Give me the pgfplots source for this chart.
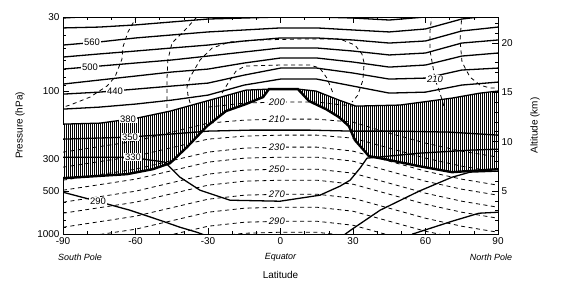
\documentclass[border=0pt]{standalone}
\usepackage{fontspec}
\setmainfont{Liberation Sans}
\usepackage{pgfplots}
\pgfplotsset{compat=1.18}
\usepgfplotslibrary{fillbetween}
\usetikzlibrary{patterns.meta,calc}

\begin{document}
\begin{tikzpicture}[font=\fontsize{10}{12}\selectfont,
  isen/.style={black, line width=1.3pt},
  trop/.style={black, line width=2.4pt},
  iso/.style={black, line width=0.8pt, dash pattern=on 4bp off 3.5bp},
  lab/.style={fill=white, inner sep=0.8pt, font=\fontsize{9.5}{10}\selectfont},
  tlab/.style={lab, font=\fontsize{9.5}{10}\selectfont\itshape}]
\begin{axis}[
    scale only axis, width=435bp, height=217bp,
    xmin=-90, xmax=90, ymin=30, ymax=1000,
    ymode=log, y dir=reverse,
    xtick={-90,-60,-30,0,30,60,90},
    xticklabels={-90,-60,-30,0,30,60,90},
    minor xtick={-80,-70,-50,-40,-20,-10,10,20,40,50,70,80},
    ytick={30,100,300,500,1000},
    yticklabels={30,100,300,500,1000},
    minor ytick={40,50,60,70,80,90,200,400,600,700,800,900},
    ytick pos=left, xtick pos=both, tick align=inside,
    major tick length=6bp, minor tick length=3bp,
    tick style={black, line width=0.6pt},
    axis line style={line width=0.8pt},
    clip=true
]
% temperature (dashed), troposphere
\addplot[iso] coordinates {(-30,128.7) (-15,120.6) (0,118.6) (15,118.6) (30,126.6)};
\addplot[iso] coordinates {(-90,266.4) (-60,223.0) (-30,166.7) (-15,158.8) (0,156.3) (15,156.3) (30,164.0) (45,196.0) (60,230.3) (75,262.1) (90,288.9)};
\addplot[iso] coordinates {(-90,339.6) (-60,284.2) (-30,215.9) (-15,205.7) (0,202.4) (15,202.4) (30,212.4) (45,249.7) (60,293.6) (75,334.2) (90,368.2)};
\addplot[iso] coordinates {(-90,419.1) (-60,350.8) (-30,266.4) (-15,249.7) (0,245.7) (15,245.7) (30,262.1) (45,308.2) (60,362.3) (75,412.4) (90,454.4)};
\addplot[iso] coordinates {(-90,492.8) (-60,412.4) (-30,313.2) (-15,293.6) (0,288.9) (15,288.9) (30,308.2) (45,362.3) (60,426.0) (75,484.9) (90,534.2)};
\addplot[iso] coordinates {(-90,598.3) (-60,500.8) (-30,380.3) (-15,356.5) (0,350.8) (15,350.8) (30,374.2) (45,440.0) (60,517.2) (75,588.7) (90,648.7)};
\addplot[iso] coordinates {(-90,714.9) (-60,598.3) (-30,454.4) (-15,426.0) (0,419.1) (15,419.1) (30,447.1) (45,525.7) (60,618.0) (75,703.4) (90,775.1)};
\addplot[iso] coordinates {(-90,896.5) (-60,750.4) (-30,570.0) (-15,534.2) (0,525.7) (15,525.7) (30,560.8) (45,659.3) (60,775.1) (75,882.2) (90,972.1)};
\addplot[iso] coordinates {(-90,1100) (-60,926.0) (-30,703.4) (-15,659.3) (0,648.7) (15,648.7) (30,692.1) (45,813.6) (60,956.5) (75,1080) (90,1190)};
\addplot[iso] coordinates {(-90,1381) (-60,1157) (-30,882.2) (-15,826.9) (0,813.6) (15,813.6) (30,868.0) (45,1020) (60,1190)};
\addplot[iso] coordinates {(-60,1381) (-30,1054) (-15,987.9) (0,972.1) (15,972.1) (30,1037) (45,1210)};
% temperature (dashed), stratosphere
\addplot[iso] coordinates {(-59.4,29.5) (-63.1,38.2) (-65.2,48.7) (-65.6,59.2) (-68.5,79.2) (-71.8,91.6) (-78.8,109.4) (-87.1,124.5) (-90,128.7)};
\addplot[iso] coordinates {(-34.6,30.0) (-39.5,37.0) (-44.9,45.7) (-46.6,60.1) (-47.0,83.1) (-47.0,114.9) (-47.0,139.5)};
\addplot[iso] coordinates {(-37.4,120.6) (-38.3,106.0) (-38.7,93.1) (-37.4,79.2) (-33.3,60.1) (-28.3,49.5) (-20.9,44.9) (-8.5,43.5) (8.1,42.8) (24.6,42.8) (30.8,47.2) (33.7,54.5) (34.6,63.1) (34.1,83.1) (32.0,106.0) (29.6,118.6)};
\addplot[iso] coordinates {(-24.2,102.6) (-21.7,87.3) (-18.4,71.9) (-14.7,66.3) (-0.2,65.2) (12.2,65.2) (16.3,68.5) (19.2,80.5) (20.9,94.6) (21.7,102.6)};
\addplot[iso] coordinates {(62.7,28.6) (61.9,37.0) (61.9,52.0) (63.1,67.4) (63.9,81.8) (66.0,102.6) (68.1,135.1)};
\addplot[iso] coordinates {(75.1,28.1) (74.3,43.5) (75.1,62.1) (78.4,79.2) (82.6,90.1) (86.7,94.6) (90,94.6)};
% lowermost stratosphere: between 380 K and the tropopause
\addplot[draw=none, name path=top] coordinates {(-90,169.4) (-74.7,166.7) (-59.4,153.7) (-45.7,137.3) (-29.2,114.9) (-14.3,97.8) (-4.8,96.2) (7.2,96.2) (14.7,99.3) (24.2,114.9) (31.2,126.6) (49.4,124.5) (71.0,111.2) (82.6,102.6) (90,99.3)};
\addplot[draw=none, name path=tp] coordinates {(-90,405.8) (-63.5,380.3) (-52.8,350.8) (-45.7,318.3) (-38.7,245.7) (-30.4,175.0) (-22.6,137.3) (-14.3,122.5) (-7.2,109.4) (-4.8,96.2) (7.2,96.2) (11.8,116.7) (18.8,132.9) (24.2,151.3) (28.3,175.0) (30.8,219.4) (36.6,284.2) (43.2,298.4) (57.3,334.2) (71.0,368.2) (90,350.8)};
\addplot[fill=white, draw=none] fill between[of=top and tp];
\addplot[draw=none, pattern={Lines[angle=90,distance=2bp,line width=1bp]}, pattern color=black] fill between[of=top and tp];
% potential temperature (solid)
\addplot[isen] coordinates {(-90,30.5) (-75,29.5) (-60,28.6) (-45,27.7) (-30,26.8) (0,25.9) (30,26.3) (60,25.9) (90,23.7)};
\addplot[isen] coordinates {(-90,35.8) (-75,35.3) (-60,34.1) (-45,32.5) (-30,31.0) (-15,30.5) (0,30.0) (15,30.0) (30,30.5) (45,31.5) (60,30.0) (75,26.3) (90,23.7)};
\addplot[isen] coordinates {(-90,47.2) (-75,44.9) (-60,42.1) (-45,40.1) (-30,38.2) (-15,37.0) (0,35.8) (15,35.8) (30,37.0) (45,38.2) (60,36.4) (75,31.0) (90,29.0)};
\addplot[isen] coordinates {(-90,57.3) (-75,54.5) (-60,52.0) (-45,49.5) (-30,47.2) (-15,44.2) (0,42.1) (15,42.1) (30,43.5) (45,45.7) (60,44.2) (75,37.6) (90,35.3)};
\addplot[isen] coordinates {(-90,69.6) (-75,66.3) (-60,63.1) (-45,60.1) (-30,56.4) (-15,52.8) (0,49.5) (15,49.5) (30,52.0) (45,55.4) (60,53.7) (75,45.7) (90,43.5)};
\addplot[isen] coordinates {(-90,88.7) (-75,83.1) (-60,77.9) (-45,73.0) (-30,69.6) (-15,63.1) (0,58.2) (15,58.2) (30,62.1) (45,67.4) (60,65.2) (75,56.4) (90,53.7)};
\addplot[isen] coordinates {(-90,104.3) (-75,101.0) (-60,96.2) (-45,91.6) (-30,87.3) (-15,76.7) (0,68.5) (15,68.5) (30,74.2) (45,81.8) (60,80.5) (75,70.7) (90,68.5)};
\addplot[isen] coordinates {(-90,132.9) (-75,128.7) (-60,122.5) (-45,114.9) (-30,106.0) (-15,90.1) (0,81.8) (15,81.8) (30,91.6) (45,102.6) (60,101.0) (75,90.1) (90,85.9)};
\addplot[isen] coordinates {(-90,169.4) (-74.7,166.7) (-59.4,153.7) (-45.7,137.3) (-29.2,114.9) (-14.3,97.8) (-4.8,96.2) (7.2,96.2) (14.7,99.3) (24.2,114.9) (31.2,126.6) (49.4,124.5) (71.0,111.2) (82.6,102.6) (90,99.3)};
\addplot[isen] coordinates {(-90,215.9) (-63.1,209.0) (-45.7,199.2) (-30,189.7) (-12.6,186.7) (12.2,186.7) (29.6,189.7) (49.4,189.7) (70.1,192.8) (90,202.4)};
\addplot[isen] coordinates {(-90,288.9) (-62.3,288.9) (-47.8,313.2) (-41.6,399.3) (-33.3,492.8) (-20.9,579.3) (-0.2,588.7) (16.3,534.2) (24.6,461.8) (28.8,419.1) (32.9,345.1) (35.8,293.6) (57.7,270.7) (78.4,257.9) (90,253.8)};
\addplot[isen] coordinates {(-90,509.0) (-75.9,588.7) (-62.3,681.0) (-49.9,800.6) (-41.6,896.5) (-34.6,972.1) (-31.2,1020)};
\addplot[isen] coordinates {(26.7,1004) (29.6,926.0) (41.2,681.0) (57.3,500.8) (71.0,399.3) (78.4,368.2) (90,362)};
\addplot[isen] coordinates {(54.4,1004) (71.0,813.6) (82.1,714.9) (90,703.4)};
% tropopause
\addplot[trop] coordinates {(-90,405.8) (-63.5,380.3) (-52.8,350.8) (-45.7,318.3) (-38.7,245.7) (-30.4,175.0) (-22.6,137.3) (-14.3,122.5) (-7.2,109.4) (-4.8,96.2) (7.2,96.2) (11.8,116.7) (18.8,132.9) (24.2,151.3) (28.3,175.0) (30.8,219.4) (36.6,284.2) (43.2,298.4) (57.3,334.2) (71.0,368.2) (90,350.8)};
% contour labels
\node[lab] at (axis cs:-78,45.4) {560};
\node[lab] at (axis cs:-78.8,67.1) {500};
\node[lab] at (axis cs:-68.5,99) {440};
\node[lab] at (axis cs:-63.1,156) {380};
\node[lab] at (axis cs:-62.3,209) {350};
\node[lab] at (axis cs:-61,288.9) {330};
\node[lab] at (axis cs:-75.5,590) {290};
\node[tlab] at (axis cs:-1.5,118.6) {200};
\node[tlab] at (axis cs:-1.5,156.3) {210};
\node[tlab] at (axis cs:-1.5,245.7) {230};
\node[tlab] at (axis cs:-1.5,350.8) {250};
\node[tlab] at (axis cs:-1.5,525.7) {270};
\node[tlab] at (axis cs:-1.5,813.6) {290};
\node[tlab] at (axis cs:63.9,81.8) {210};
\end{axis}
\begin{axis}[
    scale only axis, width=435bp, height=217bp,
    xmin=-90, xmax=90, ymin=0.64, ymax=22.63,
    axis x line=none, axis y line*=right,
    ytick={5,10,15,20}, minor ytick={1,2,...,22},
    tick align=inside,
    major tick length=6bp, minor tick length=3bp,
    tick style={black, line width=0.6pt},
    axis line style={line width=0.8pt},
    /pgf/number format/assume math mode=true,
    clip=false
]
\coordinate (sw) at (rel axis cs:0,0);
\coordinate (ne) at (rel axis cs:1,1);
\end{axis}
\coordinate (mid) at ($(sw)!0.5!(ne)$);
\node[rotate=90] at ($(ne|-mid)+(37bp,0)$) {Altitude (km)};
\node[rotate=90] at ($(sw|-mid)+(-43bp,0)$) {Pressure (hPa)};
\node at ($(mid|-sw)+(0,-41bp)$) {Latitude};
\node[font=\fontsize{9}{10}\selectfont\itshape] at ($(sw)+(17bp,-23bp)$) {South Pole};
\node[font=\fontsize{9}{10}\selectfont\itshape] at ($(mid|-sw)+(0,-23bp)$) {Equator};
\node[font=\fontsize{9}{10}\selectfont\itshape] at ($(ne|-sw)+(-7bp,-23bp)$) {North Pole};
\pgfresetboundingbox
\path ($(sw)+(-63bp,-54bp)$) rectangle ($(ne)+(78bp,17bp)$);
\end{tikzpicture}
\end{document}
